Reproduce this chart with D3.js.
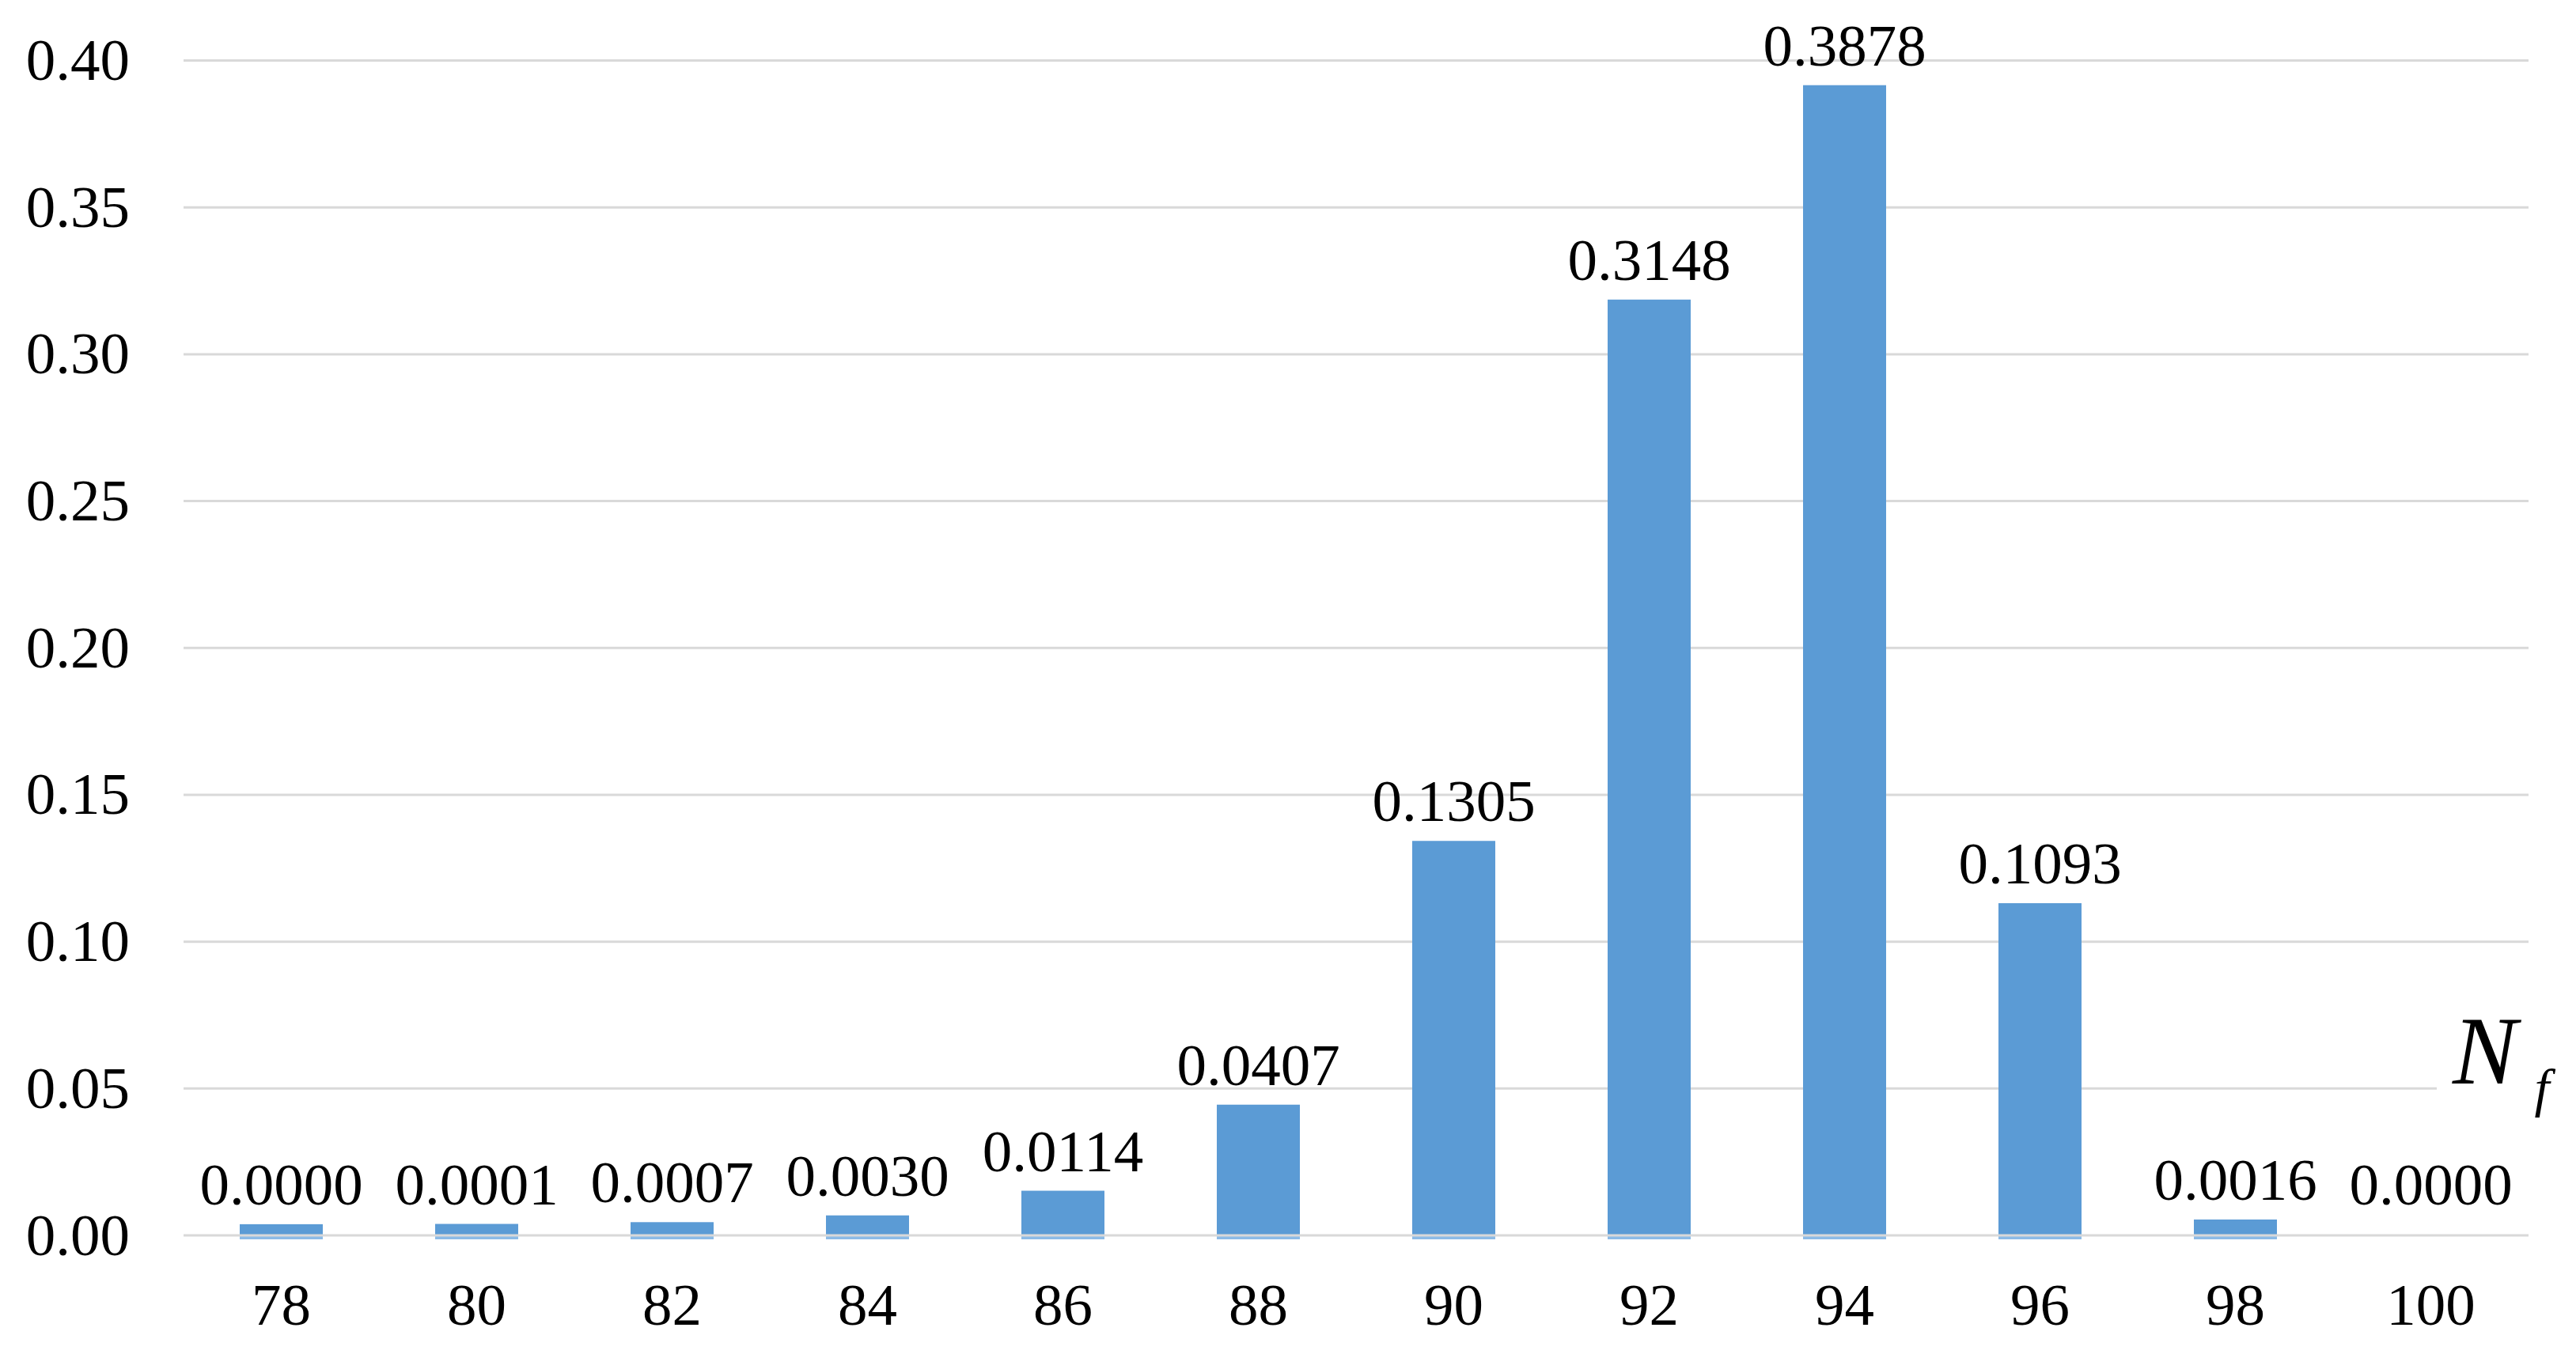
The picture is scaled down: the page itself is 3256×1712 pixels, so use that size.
<!DOCTYPE html>
<html>
<head>
<meta charset="utf-8">
<script src="https://cdn.jsdelivr.net/npm/d3@7"></script>
<style>
  html, body { margin: 0; padding: 0; background: #ffffff; }
  svg { display: block; }
</style>
</head>
<body>
<svg id="chart" width="3256" height="1712"></svg>
<script>
// ---- data ----
const categories = ["78", "80", "82", "84", "86", "88", "90", "92", "94", "96", "98", "100"];
// printed value labels
const labelValues = [0.0000, 0.0001, 0.0007, 0.0030, 0.0114, 0.0407, 0.1305, 0.3148, 0.3878, 0.1093, 0.0016, 0.0000];
// bar heights as drawn in the picture
const barValues = [0.0038, 0.0039, 0.0045, 0.0068, 0.0152, 0.0445, 0.1343, 0.3186, 0.3916, 0.1131, 0.0054, 0.0038];
// whether the bar is visible in the picture (the 100 bar is not drawn)
const barShown = [true, true, true, true, true, true, true, true, true, true, true, false];
const yTicks = [0, 0.05, 0.10, 0.15, 0.20, 0.25, 0.30, 0.35, 0.40];
const axisTitle = "N";
const axisSub = "f";

// ---- layout ----
const plotLeft = 232, plotRight = 3196, plotTop = 76.5, plotBottom = 1562;
const barColor = "#5b9bd5";
const gridColor = "#d9d9d9";
const font = "'Liberation Serif', 'Times New Roman', serif";
const fs = 75;

const svg = d3.select("#chart");

const x = d3.scaleBand().domain(categories).range([plotLeft, plotRight])
  .paddingInner(0.575).paddingOuter(0.2875);
const y = d3.scaleLinear().domain([0, 0.4]).range([plotBottom, plotTop]);

// gridlines (non-zero)
svg.append("g").selectAll("line").data(yTicks.filter(d => d > 0)).join("line")
  .attr("x1", plotLeft).attr("x2", plotRight)
  .attr("y1", d => y(d)).attr("y2", d => y(d))
  .attr("stroke", gridColor).attr("stroke-width", 3);

// y-axis tick labels
const yAxis = d3.axisLeft(y).tickValues(yTicks).tickFormat(d3.format(".2f"))
  .tickSize(0).tickPadding(68);
const gy = svg.append("g").attr("transform", `translate(${plotLeft},0)`).call(yAxis);
gy.select(".domain").remove();
gy.selectAll("text")
  .attr("font-family", font).attr("font-size", fs).attr("fill", "#000")
  .attr("dy", 24);

// bars
const data = categories.map((c, i) => ({ c, v: barValues[i], lab: labelValues[i], shown: barShown[i] }));
const shownData = data.filter(d => d.shown);
svg.append("g").selectAll("rect.bar").data(shownData).join("rect")
  .attr("class", "bar")
  .attr("x", d => x(d.c)).attr("width", x.bandwidth())
  .attr("y", d => y(d.v)).attr("height", d => y(0) - y(d.v))
  .attr("fill", barColor);
// lighter foot of bars below the zero line
svg.append("g").selectAll("rect.foot").data(shownData).join("rect")
  .attr("class", "foot")
  .attr("x", d => x(d.c)).attr("width", x.bandwidth())
  .attr("y", y(0)).attr("height", 5)
  .attr("fill", "#8dbbe6");

// zero line on top
svg.append("line")
  .attr("x1", plotLeft).attr("x2", plotRight)
  .attr("y1", y(0)).attr("y2", y(0))
  .attr("stroke", gridColor).attr("stroke-width", 3);

// x-axis tick labels
const xAxis = d3.axisBottom(x).tickSize(0).tickPadding(0);
const gx = svg.append("g").attr("transform", `translate(0,${y(0)})`).call(xAxis);
gx.select(".domain").remove();
gx.selectAll("text")
  .attr("font-family", font).attr("font-size", fs).attr("fill", "#000")
  .attr("y", 113).attr("dy", 0);

// data labels
svg.append("g").selectAll("text").data(data).join("text")
  .attr("x", d => x(d.c) + x.bandwidth() / 2)
  .attr("y", d => y(d.v) - 25)
  .attr("text-anchor", "middle")
  .attr("font-family", font).attr("font-size", fs).attr("fill", "#000")
  .text(d => d3.format(".4f")(d.lab));

// axis title N_f with white backing that interrupts the gridline
svg.append("rect").attr("x", 3080).attr("y", 1280).attr("width", 176).attr("height", 140).attr("fill", "#fff");
const t = svg.append("text")
  .attr("x", 3100).attr("y", 1370)
  .attr("font-family", font).attr("font-style", "italic").attr("font-size", 122).attr("fill", "#000");
t.append("tspan").text(axisTitle);
t.append("tspan").attr("font-size", 68).attr("dx", 22).attr("dy", 29).text(axisSub);
</script>
</body>
</html>
